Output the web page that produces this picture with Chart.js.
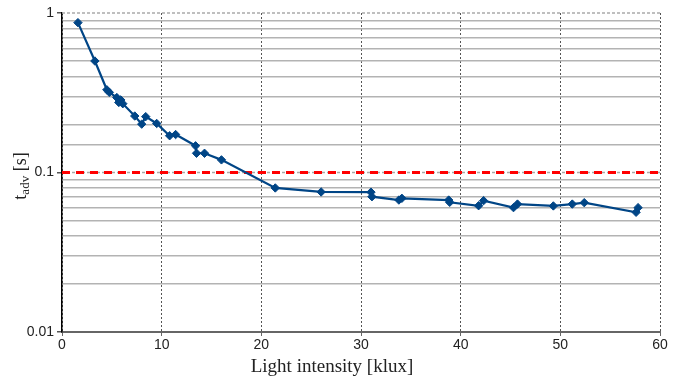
<!DOCTYPE html>
<html>
<head>
<meta charset="utf-8">
<script src="https://cdn.jsdelivr.net/npm/chart.js@4/dist/chart.umd.min.js"></script>
<style>
  html, body { margin: 0; padding: 0; background: #fff; }
  canvas { display: block; }
</style>
</head>
<body>
<canvas id="chart1" width="689" height="379"></canvas>
<script>
  // values
  const lightKlux = [1.6, 3.3, 4.5, 4.75, 5.5, 5.7, 5.9, 6.1, 7.3, 8.0, 8.4, 9.5, 10.8, 11.4,
    13.4, 13.5, 14.3, 16.0, 21.4, 26.0, 31.0, 31.1, 33.8, 34.1, 38.8, 38.9, 41.8, 42.3,
    45.3, 45.7, 49.3, 51.2, 52.4, 57.6, 57.8];
  const tAdv = [0.87, 0.50, 0.33, 0.318, 0.295, 0.275, 0.285, 0.27, 0.226, 0.201, 0.224, 0.203, 0.170, 0.173,
    0.147, 0.132, 0.132, 0.120, 0.080, 0.0755, 0.0753, 0.0705, 0.0672, 0.0689, 0.0672, 0.065, 0.0619, 0.0666,
    0.0602, 0.0634, 0.0617, 0.0634, 0.0647, 0.0563, 0.0602];
  const limitX = [0, 60];
  const limitY = 0.1;
  const xTicks = [0, 10, 20, 30, 40, 50, 60];

  const isDecade = v => Math.abs(Math.log10(v) - Math.round(Math.log10(v))) < 1e-9;

  // axis titles (y has a subscript) + dotted major lines
  const extras = {
    id: 'extras',
    beforeDatasetsDraw(chart) {
      const {ctx, chartArea, scales} = chart;
      ctx.save();
      ctx.strokeStyle = '#aaa';
      ctx.lineWidth = 1.5;
      ctx.setLineDash([3, 2]);
      [1, 0.1].forEach(v => {
        const y = scales.y.getPixelForValue(v);
        ctx.beginPath();
        ctx.moveTo(chartArea.left, y);
        ctx.lineTo(chartArea.right, y);
        ctx.stroke();
      });
      ctx.restore();
    },
    afterDraw(chart) {
      const {ctx} = chart;
      ctx.save();
      ctx.fillStyle = '#222';
      ctx.font = '19px "Liberation Serif"';
      ctx.textAlign = 'center';
      ctx.textBaseline = 'alphabetic';
      ctx.fillText('Light intensity [klux]', 332, 372);

      ctx.translate(26, 176);
      ctx.rotate(-Math.PI / 2);
      ctx.textAlign = 'left';
      const big = '18px "Liberation Serif"';
      const small = '13px "Liberation Serif"';
      ctx.font = big;
      const wT = ctx.measureText('t').width;
      const wS = ctx.measureText(' [s]').width;
      ctx.font = small;
      const wA = ctx.measureText('adv').width;
      let x = -(wT + wA + wS) / 2;
      ctx.font = big;
      ctx.fillText('t', x, 0);
      x += wT;
      ctx.font = small;
      ctx.fillText('adv', x, 3);
      x += wA;
      ctx.font = big;
      ctx.fillText(' [s]', x, 0);
      ctx.restore();
    }
  };

  const ctx = document.getElementById('chart1').getContext('2d');

  const chart1 = new Chart(ctx, {
    type: 'line',
    data: {
      datasets: [{
        label: 'tadv',
        data: lightKlux.map((x, i) => ({x: x, y: tAdv[i]})),
        borderColor: '#004586',
        backgroundColor: '#004586',
        borderWidth: 2.2,
        pointStyle: 'rectRot',
        pointRadius: 4.2,
        pointBorderWidth: 1,
        tension: 0
      }, {
        label: 'limit',
        data: limitX.map(x => ({x: x, y: limitY})),
        borderColor: '#ff0000',
        borderWidth: 3.2,
        borderDash: [8, 6],
        pointRadius: 0
      }]
    },
    options: {
      responsive: false,
      animation: false,
      layout: { padding: { top: 13, right: 29, left: 0, bottom: 0 } },
      plugins: { legend: { display: false }, tooltip: { enabled: false } },
      scales: {
        x: {
          type: 'linear',
          min: 0,
          max: 60,
          afterBuildTicks: s => { s.ticks = xTicks.map(v => ({value: v})); },
          afterFit: s => { s.height = 47; },
          ticks: { font: { family: 'Liberation Sans', size: 14 }, color: '#222', padding: 1, maxRotation: 0 },
          grid: { color: '#555', lineWidth: 1, tickLength: 4, tickColor: '#666' },
          border: { color: '#666', width: 2, dash: [2, 2] }
        },
        y: {
          type: 'logarithmic',
          min: 0.01,
          max: 1,
          afterFit: s => { s.width = 62; },
          ticks: {
            autoSkip: false,
            font: { family: 'Liberation Sans', size: 14 },
            color: '#222',
            padding: 3,
            callback: v => isDecade(v) ? String(v) : ''
          },
          grid: {
            color: c => isDecade(c.tick.value) ? 'rgba(0,0,0,0)' : '#b3b3b3',
            lineWidth: 1.5,
            tickLength: 5,
            tickColor: c => isDecade(c.tick.value) ? '#555' : 'rgba(0,0,0,0)'
          },
          border: { color: '#000', width: 1.5 }
        }
      }
    },
    plugins: [extras]
  });
</script>
</body>
</html>
